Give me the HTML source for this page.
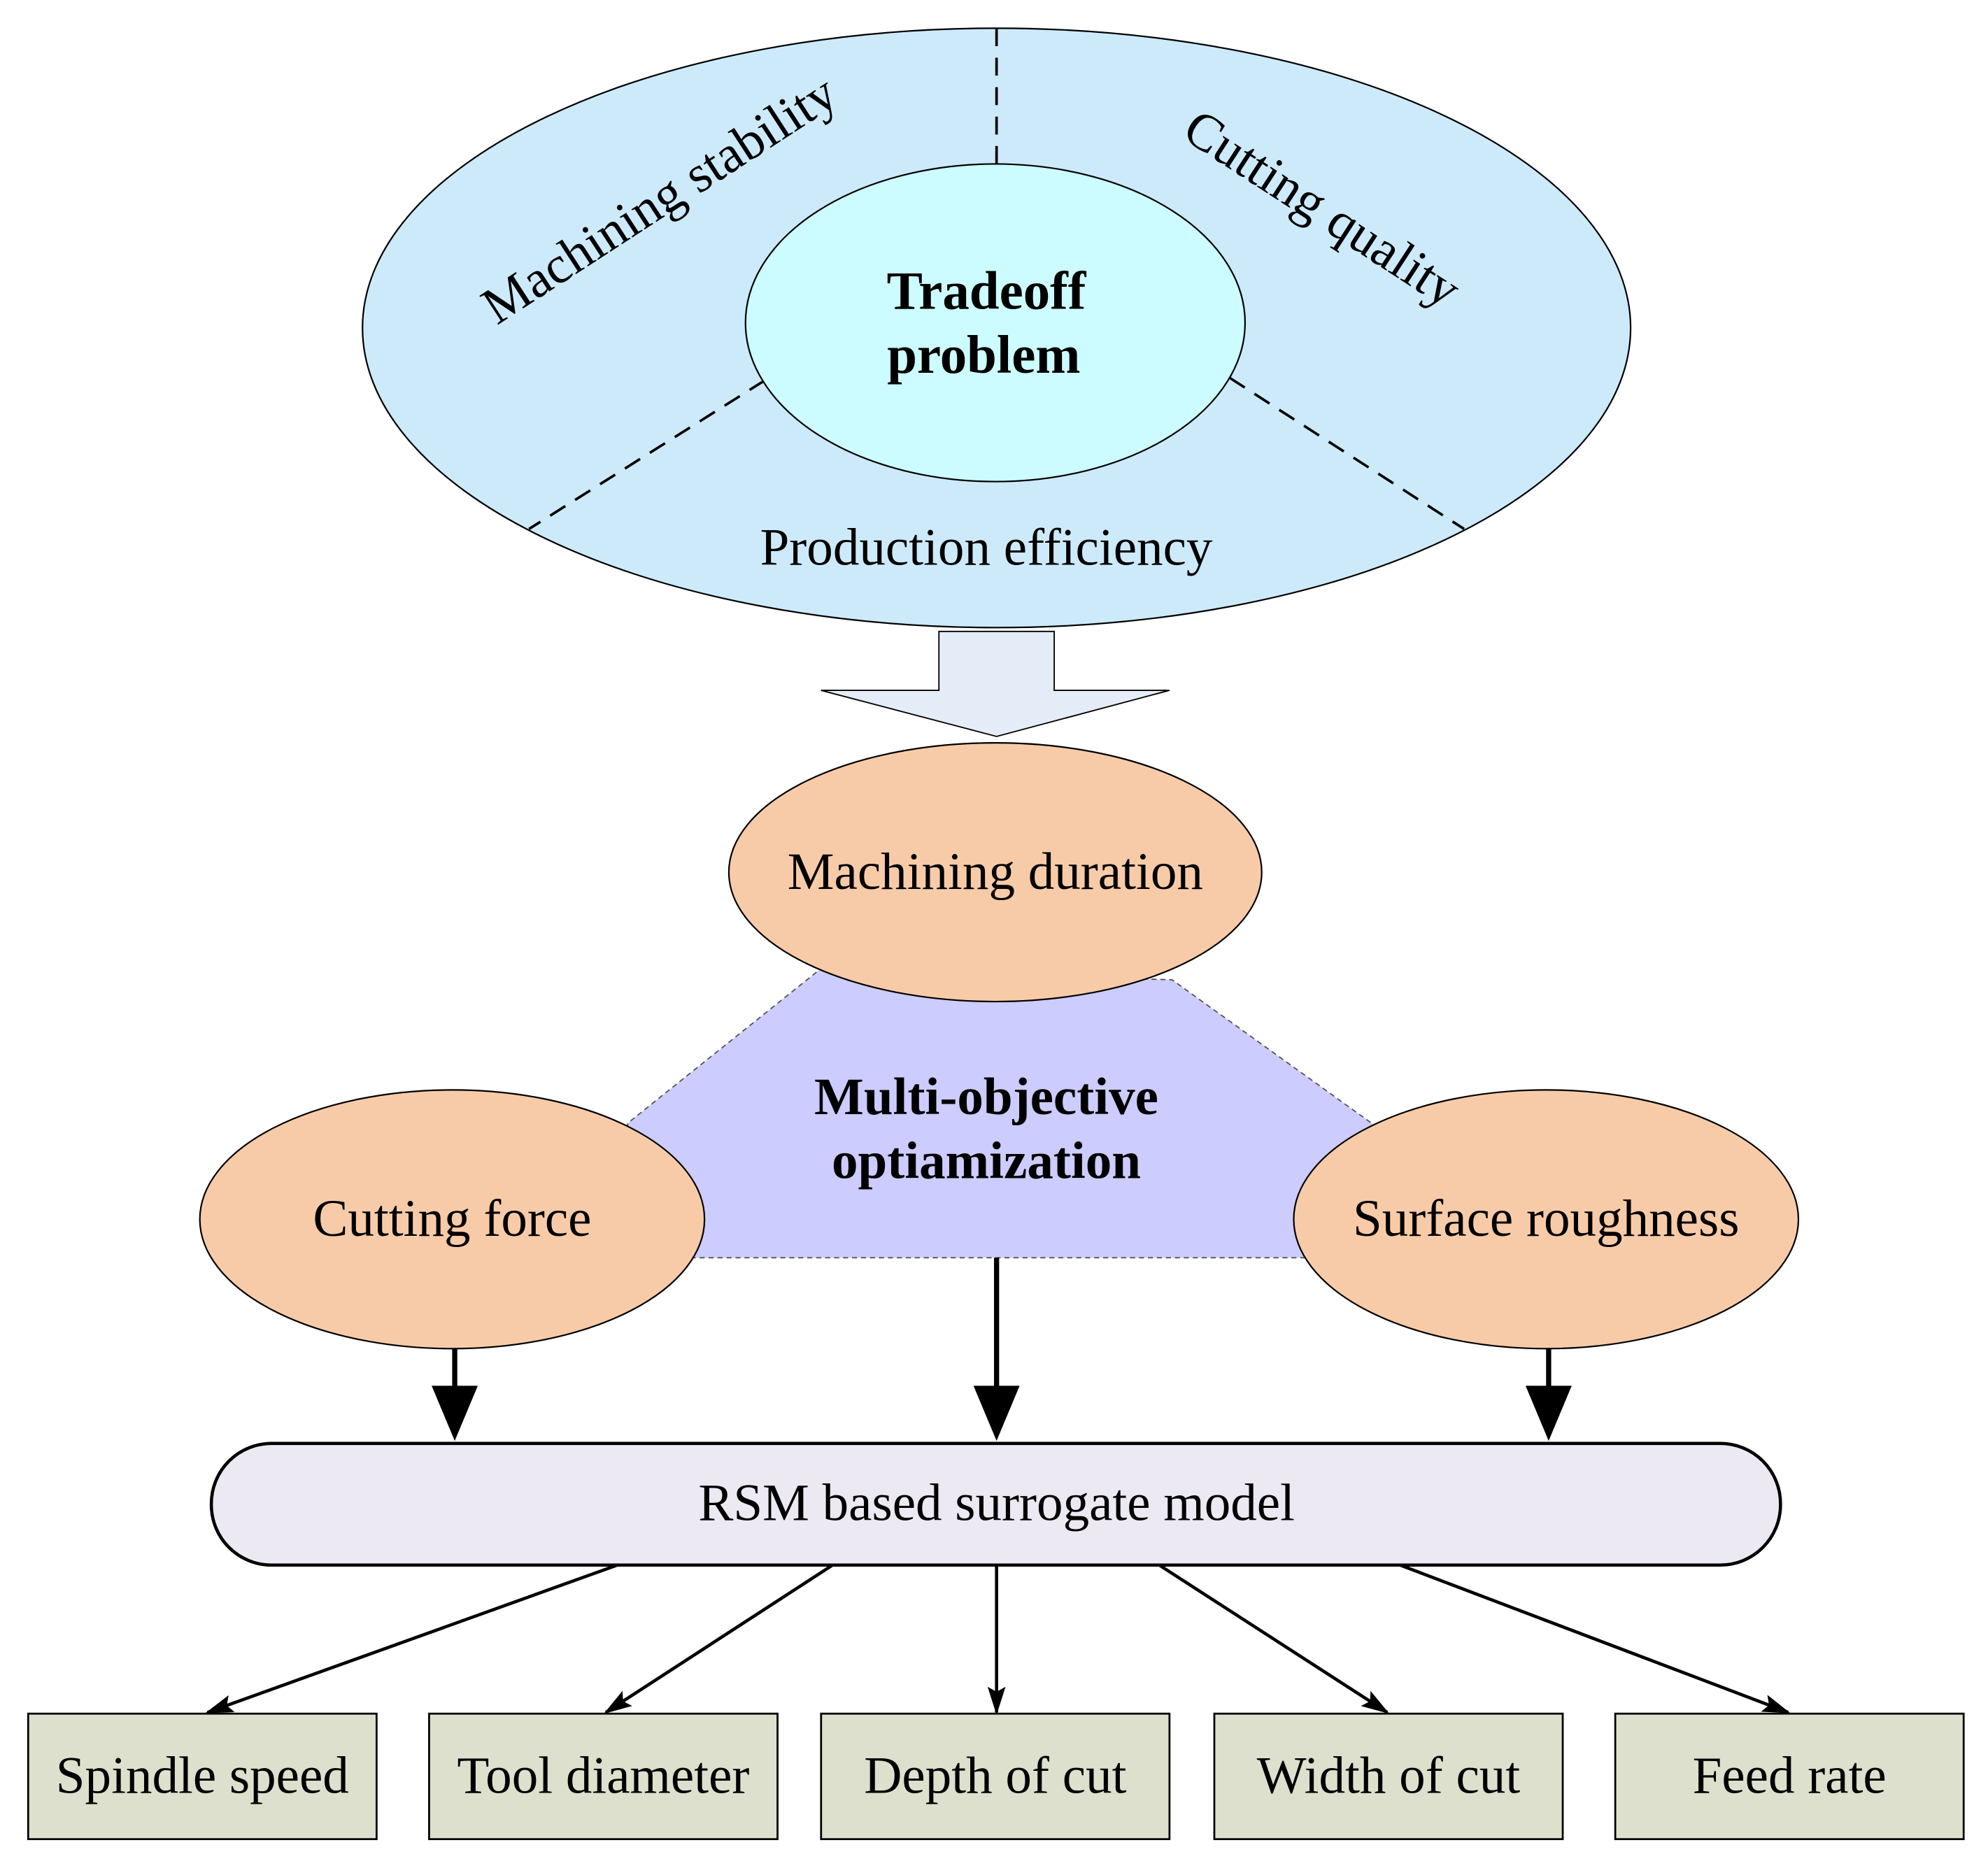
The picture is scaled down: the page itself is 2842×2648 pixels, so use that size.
<!DOCTYPE html>
<html><head><style>html,body{margin:0;padding:0;background:#fff}svg{display:block}</style></head>
<body>
<svg width="2842" height="2648" viewBox="0 0 1552 1446" xmlns="http://www.w3.org/2000/svg" font-family="'Liberation Serif', serif">
<defs>
<marker id="s" markerWidth="22" markerHeight="14" refX="20" refY="7" orient="auto" markerUnits="userSpaceOnUse"><path d="M0,0 L22,7 L0,14 L4,7 Z" fill="#000"/></marker>
</defs>
<rect width="1552" height="1446" fill="#fff"/>
<ellipse cx="778" cy="256" rx="495" ry="234" fill="#cdeafb" stroke="#000" stroke-width="1.2"/>
<line x1="778" y1="22" x2="778" y2="128" stroke="#000" stroke-width="2" stroke-dasharray="14,9"/>
<line x1="597" y1="297" x2="413" y2="413" stroke="#000" stroke-width="2" stroke-dasharray="14,9"/>
<line x1="960" y1="295" x2="1143" y2="413" stroke="#000" stroke-width="2" stroke-dasharray="14,9"/>
<ellipse cx="777" cy="252" rx="195" ry="124" fill="#ccfcff" stroke="#000" stroke-width="1.2"/>
<text x="770" y="241" font-size="42" font-weight="bold" text-anchor="middle">Tradeoff</text>
<text x="768" y="291" font-size="42" font-weight="bold" text-anchor="middle">problem</text>
<text transform="translate(522,167) rotate(-33)" font-size="41" text-anchor="middle">Machining stability</text>
<text transform="translate(1025,174) rotate(33)" font-size="41" text-anchor="middle">Cutting quality</text>
<text x="770" y="441" font-size="41" text-anchor="middle">Production efficiency</text>
<path d="M733,493 L823,493 L823,539 L913,539 L778,575 L641,539 L733,539 Z" fill="#e4ecf7" stroke="#000" stroke-width="1"/>
<polygon points="640,757 915,765 1075,880 1075,982 490,982 490,877" fill="#ccccff" stroke="#555" stroke-width="1" stroke-dasharray="4,3"/>
<ellipse cx="777" cy="681" rx="208" ry="101" fill="#f8cba8" stroke="#000" stroke-width="1.2"/>
<text x="777" y="694" font-size="41" text-anchor="middle">Machining duration</text>
<ellipse cx="353" cy="952" rx="197" ry="101" fill="#f8cba8" stroke="#000" stroke-width="1.2"/>
<text x="353" y="965" font-size="41" text-anchor="middle">Cutting force</text>
<ellipse cx="1207" cy="952" rx="197" ry="101" fill="#f8cba8" stroke="#000" stroke-width="1.2"/>
<text x="1207" y="965" font-size="41" text-anchor="middle">Surface roughness</text>
<text x="770" y="870" font-size="41" font-weight="bold" text-anchor="middle">Multi-objective</text>
<text x="770" y="920" font-size="41" font-weight="bold" text-anchor="middle">optiamization</text>
<g stroke="#000" stroke-width="4">
<line x1="355" y1="1053" x2="355" y2="1085"/>
<line x1="778" y1="982" x2="778" y2="1085"/>
<line x1="1209" y1="1053" x2="1209" y2="1085"/>
</g>
<g fill="#000">
<path d="M337,1082 L373,1082 L355,1125 Z"/>
<path d="M760,1082 L796,1082 L778,1125 Z"/>
<path d="M1191,1082 L1227,1082 L1209,1125 Z"/>
</g>
<rect x="165" y="1127" width="1225" height="95" rx="47" fill="#ece9f3" stroke="#000" stroke-width="2.5"/>
<text x="778" y="1187" font-size="41" text-anchor="middle">RSM based surrogate model</text>
<g stroke="#000" stroke-width="2.5" fill="none">
<line x1="482" y1="1222" x2="162" y2="1337" marker-end="url(#s)"/>
<line x1="650" y1="1222" x2="473" y2="1337" marker-end="url(#s)"/>
<line x1="778" y1="1222" x2="778" y2="1337" marker-end="url(#s)"/>
<line x1="905" y1="1222" x2="1083" y2="1337" marker-end="url(#s)"/>
<line x1="1093" y1="1222" x2="1396" y2="1337" marker-end="url(#s)"/>
</g>
<g fill="#dde0cc" stroke="#000" stroke-width="1.5">
<rect x="22" y="1338" width="272" height="98"/>
<rect x="335" y="1338" width="272" height="98"/>
<rect x="641" y="1338" width="272" height="98"/>
<rect x="948" y="1338" width="272" height="98"/>
<rect x="1261" y="1338" width="272" height="98"/>
</g>
<g font-size="41" text-anchor="middle">
<text x="158" y="1400">Spindle speed</text>
<text x="471" y="1400">Tool diameter</text>
<text x="777" y="1400">Depth of cut</text>
<text x="1084" y="1400">Width of cut</text>
<text x="1397" y="1400">Feed rate</text>
</g>
</svg>
</body></html>
